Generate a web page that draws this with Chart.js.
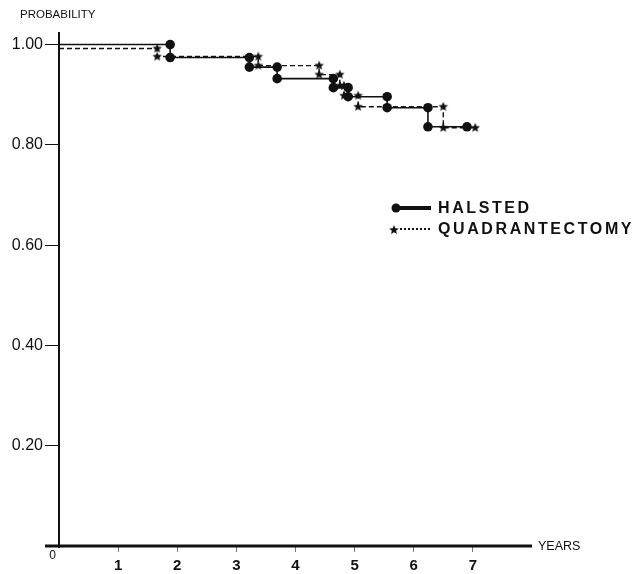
<!DOCTYPE html>
<html>
<head>
<meta charset="utf-8">
<script src="https://cdn.jsdelivr.net/npm/chart.js@4"></script>
<style>
  body { margin: 0; background: #fff; }
  canvas { display: block; }
</style>
</head>
<body>
<canvas id="chart" width="638" height="574"></canvas>
<script>
// step times (years) and survival probability after each step
const halstedTimes = [0, 1.88, 3.22, 3.69, 4.64, 4.89, 5.55, 6.24, 6.90];
const halstedSurv = [1.000, 0.974, 0.955, 0.932, 0.914, 0.896, 0.874, 0.836, 0.836];
const quadTimes = [0, 1.66, 3.37, 4.40, 4.75, 4.82, 5.06, 6.50, 7.04];
const quadSurv = [0.992, 0.976, 0.958, 0.940, 0.918, 0.898, 0.876, 0.834, 0.834];

const xTickValues = [1, 2, 3, 4, 5, 6, 7];
const yTickValues = [0.2, 0.4, 0.6, 0.8, 1.0];
const seriesNames = ['HALSTED', 'QUADRANTECTOMY'];

const FONT = '"Liberation Sans", Arial, Helvetica, sans-serif';

// turns the step table into corner points so a mark sits at both ends of each drop
function buildSteps(times, surv) {
  const pts = [{ x: times[0], y: surv[0] }];
  for (let i = 1; i < times.length; i++) {
    pts.push({ x: times[i], y: surv[i - 1] });
    if (surv[i] !== surv[i - 1]) {
      pts.push({ x: times[i], y: surv[i] });
    }
  }
  return pts;
}

function makeStar(r) {
  const c = document.createElement('canvas');
  c.width = c.height = r * 2 + 2;
  const g = c.getContext('2d');
  g.fillStyle = '#111';
  g.beginPath();
  for (let i = 0; i < 10; i++) {
    const rad = i % 2 === 0 ? r : r * 0.45;
    const a = -Math.PI / 2 + i * Math.PI / 5;
    const px = r + 1 + rad * Math.cos(a);
    const py = r + 1 + rad * Math.sin(a);
    if (i === 0) g.moveTo(px, py); else g.lineTo(px, py);
  }
  g.closePath();
  g.fill();
  return c;
}
const starImg = makeStar(5);

const axesPlugin = {
  id: 'axesPlugin',
  afterDraw(chart) {
    const ctx = chart.ctx;
    const xs = chart.scales.x;
    const ys = chart.scales.y;
    const x0 = xs.getPixelForValue(0);
    const y0 = ys.getPixelForValue(0);
    ctx.save();
    ctx.strokeStyle = '#111';
    // y axis
    ctx.lineWidth = 2;
    ctx.beginPath();
    ctx.moveTo(x0, chart.chartArea.top);
    ctx.lineTo(x0, y0 + 2);
    ctx.stroke();
    // x axis
    ctx.lineWidth = 3;
    ctx.beginPath();
    ctx.moveTo(x0 - 14, y0);
    ctx.lineTo(xs.getPixelForValue(8), y0);
    ctx.stroke();

    ctx.fillStyle = '#111';
    ctx.textBaseline = 'middle';
    ctx.font = '12px ' + FONT;
    ctx.textAlign = 'right';
    ctx.fillText('0', x0 - 3, y0 + 10);
    ctx.textAlign = 'left';
    ctx.font = '12.5px ' + FONT;
    ctx.fillText('YEARS', xs.getPixelForValue(8) + 6, y0 + 1);
    ctx.font = '11.5px ' + FONT;
    ctx.fillText('PROBABILITY', 20, 15);

    // legend
    const ds = chart.data.datasets;
    ctx.font = 'bold 16px ' + FONT;
    ctx.letterSpacing = '2.6px';
    // halsted
    ctx.lineWidth = 4;
    ctx.setLineDash([]);
    ctx.beginPath();
    ctx.moveTo(396, 208);
    ctx.lineTo(431, 208);
    ctx.stroke();
    ctx.beginPath();
    ctx.arc(396, 208, 4.5, 0, Math.PI * 2);
    ctx.fill();
    ctx.fillText(ds[0].label, 438, 209);
    // quadrantectomy
    ctx.lineWidth = 2;
    ctx.setLineDash([2, 2]);
    ctx.beginPath();
    ctx.moveTo(400, 229);
    ctx.lineTo(430, 229);
    ctx.stroke();
    ctx.setLineDash([]);
    ctx.drawImage(starImg, 393 - 5, 229 - 5);
    ctx.fillText(ds[1].label, 438, 230);
    ctx.restore();
  }
};

new Chart(document.getElementById('chart'), {
  type: 'line',
  data: {
    datasets: [
      {
        label: seriesNames[0],
        data: buildSteps(halstedTimes, halstedSurv),
        borderColor: '#111',
        backgroundColor: '#111',
        borderWidth: 1.6,
        pointStyle: 'circle',
        pointRadius: (c) => c.dataIndex === 0 ? 0 : 4.8,
        pointBorderWidth: 0,
        tension: 0
      },
      {
        label: seriesNames[1],
        data: buildSteps(quadTimes, quadSurv),
        borderColor: '#111',
        backgroundColor: '#111',
        borderWidth: 1.4,
        borderDash: [5, 3],
        pointStyle: (c) => c.dataIndex === 0 ? false : starImg,
        pointRadius: 5,
        tension: 0
      }
    ]
  },
  options: {
    responsive: false,
    animation: false,
    devicePixelRatio: 1,
    layout: { padding: { top: 32, right: 106, left: 0, bottom: 0 } },
    plugins: {
      legend: { display: false },
      tooltip: { enabled: false }
    },
    scales: {
      x: {
        type: 'linear',
        min: 0,
        max: 8,
        afterBuildTicks: (s) => { s.ticks = xTickValues.map(v => ({ value: v })); },
        afterFit: (s) => { s.height = 28; },
        border: { display: false },
        grid: { drawOnChartArea: false, drawTicks: true, tickLength: 6, color: '#777', lineWidth: 1 },
        ticks: {
          color: '#111',
          padding: 5,
          maxRotation: 0,
          font: { family: FONT, size: 15, weight: 'bold' },
          callback: (v) => String(v)
        }
      },
      y: {
        type: 'linear',
        min: 0,
        max: 1.025,
        afterBuildTicks: (s) => { s.ticks = yTickValues.map(v => ({ value: v })); },
        afterFit: (s) => { s.width = 59; },
        border: { display: false },
        grid: { drawOnChartArea: false, drawTicks: true, tickLength: 14, color: '#111', lineWidth: 1 },
        ticks: {
          color: '#111',
          padding: 2,
          font: { family: FONT, size: 16 },
          callback: (v) => v.toFixed(2)
        }
      }
    }
  },
  plugins: [axesPlugin]
});
</script>
</body>
</html>
